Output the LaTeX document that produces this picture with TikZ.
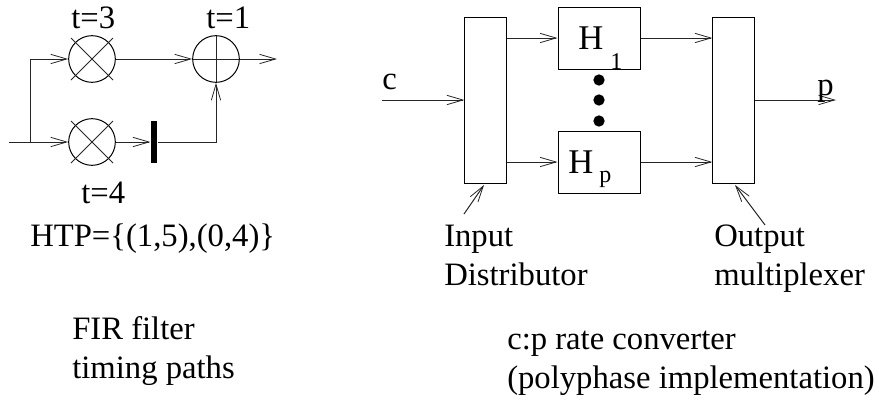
\documentclass[tikz,border=0pt]{standalone}
\usepackage{fontspec}
\setmainfont{Liberation Serif}
\usetikzlibrary{arrows.meta}
\tikzset{x=0.75pt,y=-0.75pt,
  wire/.style={line width=0.75pt,black!85},
  arr/.style={wire,-{Straight Barb[length=12pt,width=7pt,line width=0.6pt]}},
  txt/.style={inner sep=0pt,font=\fontsize{24.5pt}{24.5pt}\selectfont,anchor=base west},
  blockbox/.style={draw,line width=0.75pt,inner sep=0pt},
  dotn/.style={circle,fill=black,inner sep=0pt,minimum size=8.5pt},
  opn/.style={circle,draw,line width=0.75pt,inner sep=0pt,minimum size=35pt}}
\begin{document}
\begin{tikzpicture}
\useasboundingbox (0,0) rectangle (879,400);
% FIR
\node[opn] (m1) at (92,59) {};
\node[opn] (m2) at (92,142) {};
\node[opn] (add) at (216,59) {};
\draw[wire] (m1.center)+(-21,-21) -- +(21,21) (m1.center)+(-21,21) -- +(21,-21);
\draw[wire] (m2.center)+(-21,-21) -- +(21,21) (m2.center)+(-21,21) -- +(21,-21);
\draw[wire] (add.center)+(-23,0) -- +(23,0) (add.center)+(0,-23) -- +(0,23);
\coordinate (in) at (9,142);
\coordinate (br) at (30,142);
\coordinate (top) at (30,59);
\coordinate (out) at (277,59);
\coordinate (cor) at (216,142);
\node[fill=black,minimum width=5pt,minimum height=31pt,inner sep=0pt] (bar) at (154,142) {};
\draw[wire] (in) -- (br);
\draw[arr] (br) -- (m2.west);
\draw[arr] (br) -- (top) -- (m1.west);
\draw[arr] (m1.east) -- (add.west);
\draw[arr] (add.east) -- (out);
\draw[arr] (m2.east) -- (bar.west);
\draw[arr] (bar.east) -- (cor) -- (add.south);
\node[txt] (t3) at (71,28) {t=3};
\node[txt] (t1) at (206,28) {t=1};
\node[txt] (t4) at (81,203) {t=4};
\node[txt] (htp) at (30,246) {HTP=\{(1,5),(0,4)\}};
\node[txt] (fir) at (72,339) {FIR filter};
\node[txt] (tp) at (72,378) {timing paths};
% converter
\node[blockbox,minimum width=31pt,minimum height=124.5pt] (dist) at (485.5,100) {};
\node[blockbox,minimum width=31pt,minimum height=124.5pt] (mux) at (733.5,100) {};
\node[blockbox,minimum width=61.5pt,minimum height=46.5pt] (h1) at (599,38) {};
\node[blockbox,minimum width=61.5pt,minimum height=46.5pt] (hp) at (599,162) {};
\node[dotn] (d1) at (599,80) {};
\node[dotn] (d2) at (599,100) {};
\node[dotn] (d3) at (599,121) {};
\coordinate (cin) at (382,100);
\coordinate (pout) at (836,100);
\coordinate (a1) at (dist.east |- h1.west);
\coordinate (a2) at (dist.east |- hp.west);
\coordinate (b1) at (mux.west |- h1.east);
\coordinate (b2) at (mux.west |- hp.east);
\draw[arr] (cin) -- (dist.west);
\draw[arr] (a1) -- (h1.west);
\draw[arr] (a2) -- (hp.west);
\draw[arr] (h1.east) -- (b1);
\draw[arr] (hp.east) -- (b2);
\draw[arr] (mux.east) -- (pout);
\coordinate (p1) at (464,214);
\coordinate (q1) at (484,185);
\coordinate (p2) at (765,225);
\coordinate (q2) at (735,185);
\draw[arr] (p1) -- (q1);
\draw[arr] (p2) -- (q2);
\node[txt] (c) at (382,89) {c};
\node[txt] (p) at (817,95) {p};
\node[txt,font=\fontsize{26pt}{26pt}\selectfont] (H1) at (578,49) {H};
\node[txt,font=\fontsize{18pt}{18pt}\selectfont] (s1) at (610,69) {1};
\node[txt,font=\fontsize{26pt}{26pt}\selectfont] (H2) at (568,173) {H};
\node[txt,font=\fontsize{18pt}{18pt}\selectfont] (s2) at (599,182) {p};
\node[txt] (l1) at (444,246) {Input};
\node[txt] (l2) at (444,285) {Distributor};
\node[txt] (l3) at (714,246) {Output};
\node[txt] (l4) at (714,285) {multiplexer};
\node[txt] (l5) at (507,349) {c:p rate converter};
\node[txt] (l6) at (507,388) {(polyphase implementation)};
\end{tikzpicture}
\end{document}
